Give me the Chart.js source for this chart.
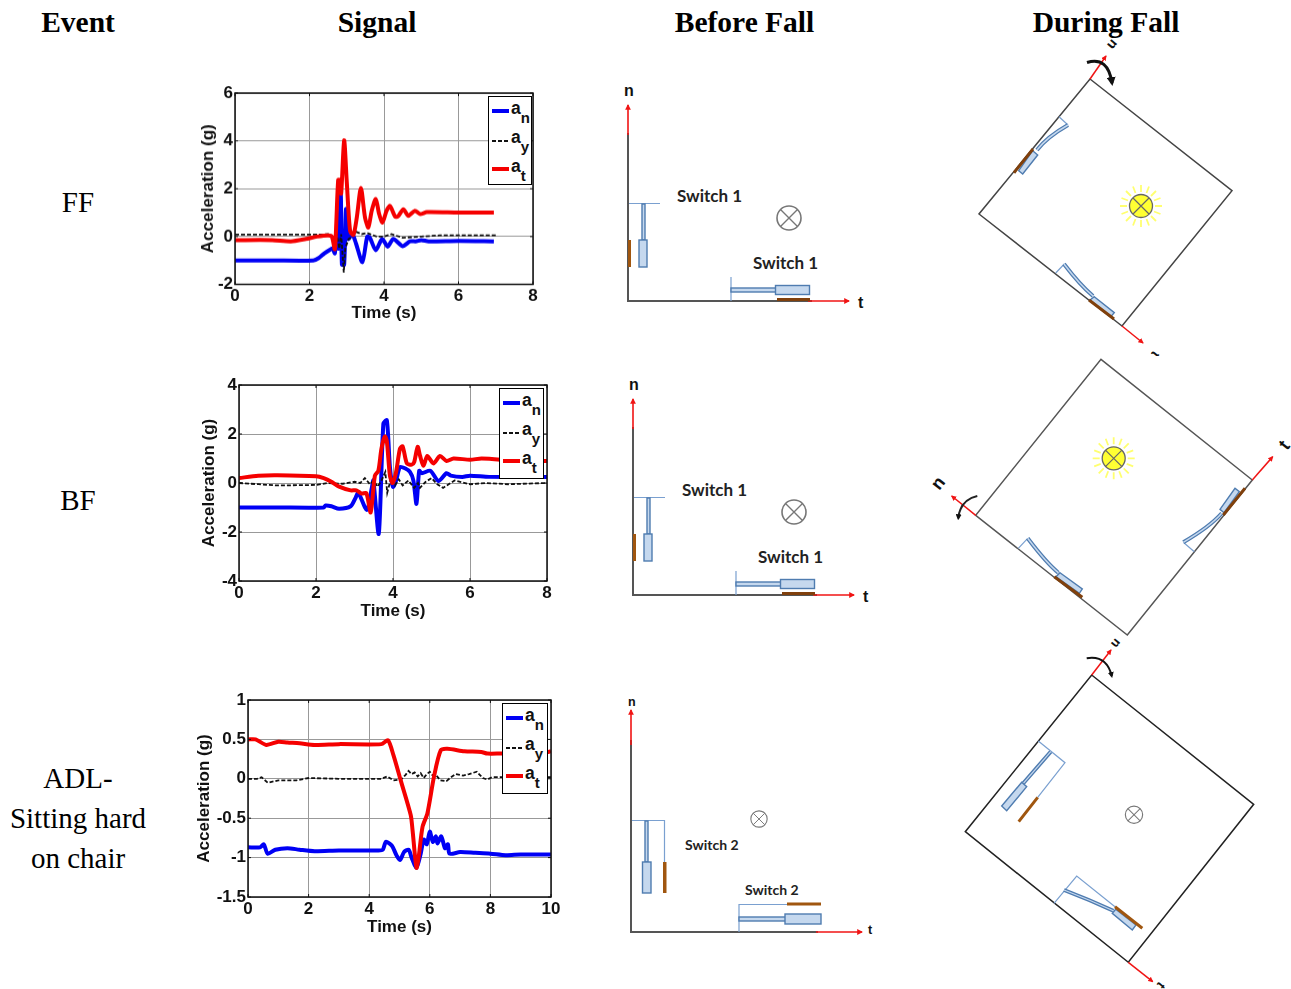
<!DOCTYPE html>
<html>
<head>
<meta charset="utf-8">
<title>Fall signals</title>
<script src="https://cdn.jsdelivr.net/npm/chart.js@4"></script>
<style>
  html, body { margin: 0; padding: 0; background: #fff; overflow: hidden; }
  #page { position: relative; width: 1291px; height: 989px; overflow: hidden; }
  #page svg { position: absolute; left: 0; top: 0; }
  .plot { position: absolute; }
  .head, .event { position: absolute; font-family: "Liberation Serif", serif; color: #000; white-space: nowrap; transform: translate(-50%, -50%); }
  .head { font-weight: bold; font-size: 29.5px; }
  .event { font-size: 29px; text-align: center; }
  .legend { position: absolute; background: #fff; border: 1.5px solid #000; box-sizing: border-box; font: bold 17.5px "Liberation Sans", sans-serif; color: #111; }
  .legend .row { position: absolute; left: 3px; height: 30px; }
  .legend .swatch { position: absolute; left: 0; top: 11px; width: 17px; border-top: 4px solid; }
  .legend .swatch.dash { border: none; height: 1.7px; top: 13px; background: repeating-linear-gradient(90deg, #111 0 4px, transparent 4px 6px); }
  .legend .name { position: absolute; left: 19px; top: 0; line-height: 20px; }
  .legend sub { font-size: 15px; line-height: 0; vertical-align: -9px; }
  .sw { font: bold 17px Lato, sans-serif; fill: #222; }
  .ax { font: bold 16px "Liberation Sans", sans-serif; fill: #111; }
</style>
</head>
<body>
<div id="page">
<svg width="1291" height="989" xmlns="http://www.w3.org/2000/svg">
  <defs>
    <marker id="tip" viewBox="0 0 6 6" refX="5" refY="3" markerWidth="3.6" markerHeight="3.6" orient="auto"><path d="M0,0 L6,3 L0,6 z" fill="#f01414"/></marker>
    <marker id="turn" viewBox="0 0 6 6" refX="4" refY="3" markerWidth="3" markerHeight="3" orient="auto"><path d="M0,0 L6,3 L0,6 z" fill="#111"/></marker>
    <g id="cross">
      <circle r="12" fill="#fff" stroke="#777" stroke-width="1.6"/>
      <path d="M-8.5,-8.5 L8.5,8.5 M8.5,-8.5 L-8.5,8.5" stroke="#777" stroke-width="1.4"/>
    </g>
    <g id="sun">
      <path d="M0,-21V-14M0,21V14M-21,0H-14M21,0H14M-15,-15L-10,-10M15,15L10,10M15,-15L10,-10M-15,15L-10,10M-8,-19.500L-5.500,-13M8,19.500L5.500,13M8,-19.500L5.500,-13M-8,19.500L-5.500,13M-19.500,-8L-13,-5.500M19.500,8L13,5.500M19.500,-8L13,-5.500M-19.500,8L-13,5.500" stroke="#ffff70" stroke-width="1.8"/>
      <circle r="11.500" fill="#ffff33" stroke="#666" stroke-width="1.300"/>
      <path d="M-8,-8L8,8M8,-8L-8,8" stroke="#666" stroke-width="1.200"/>
    </g>
    <g id="before">
      <path d="M628,133V301H812" fill="none" stroke="#555" stroke-width="2"/>
      <path d="M628,135V105" stroke="#f01414" stroke-width="1.600" marker-end="url(#tip)"/>
      <path d="M808,301H849" stroke="#f01414" stroke-width="1.600" marker-end="url(#tip)"/>
      <path d="M629,203.500H660M731,277V301" stroke="#7aa0d0" stroke-width="1.200"/>
      <rect x="642" y="204" width="3" height="36" fill="#c5d8ee" stroke="#4f7cb0" stroke-width="1.400"/>
      <rect x="639" y="240" width="8" height="27" fill="#c5d8ee" stroke="#4f7cb0" stroke-width="1.400"/>
      <rect x="628" y="240" width="3" height="27" fill="#a0560f"/>
      <rect x="731" y="288" width="45" height="4" fill="#c5d8ee" stroke="#4f7cb0" stroke-width="1.400"/>
      <rect x="775.500" y="285.500" width="34" height="9" fill="#c5d8ee" stroke="#4f7cb0" stroke-width="1.400"/>
      <rect x="777" y="298" width="33" height="3" fill="#80400c"/>
      <use href="#cross" x="789" y="218"/>
      <text class="sw" x="677" y="202">Switch 1</text>
      <text class="sw" x="753" y="269">Switch 1</text>
      <text class="ax" x="624" y="96">n</text>
      <text class="ax" x="858" y="308">t</text>
    </g>
  </defs>

  <use href="#before"/>
  <use href="#before" x="5" y="294"/>

  <!-- before fall, third row -->
  <path d="M631,740V932H818" fill="none" stroke="#555" stroke-width="2"/>
  <path d="M631,745V710" stroke="#f01414" stroke-width="1.600" marker-end="url(#tip)"/>
  <path d="M816,932H862" stroke="#f01414" stroke-width="1.600" marker-end="url(#tip)"/>
  <path d="M632,820.500H664.500V862M739,932V904.500H787" fill="none" stroke="#7aa0d0" stroke-width="1.200"/>
  <rect x="645" y="821" width="3" height="41" fill="#c5d8ee" stroke="#4f7cb0" stroke-width="1.400"/>
  <rect x="642.500" y="862" width="8.500" height="31" fill="#c5d8ee" stroke="#4f7cb0" stroke-width="1.400"/>
  <rect x="663" y="862" width="3.500" height="31" fill="#a0560f"/>
  <rect x="739" y="917" width="47" height="4" fill="#c5d8ee" stroke="#4f7cb0" stroke-width="1.400"/>
  <rect x="785" y="914" width="36" height="10" fill="#c5d8ee" stroke="#4f7cb0" stroke-width="1.400"/>
  <rect x="787" y="902.500" width="34" height="3" fill="#a0560f"/>
  <use href="#cross" transform="translate(759,819) scale(.68)"/>
  <text class="sw" style="font-size:14px" x="685" y="850">Switch 2</text>
  <text class="sw" style="font-size:14px" x="745" y="895">Switch 2</text>
  <text class="ax" style="font-size:12.500px" x="628" y="706">n</text>
  <text class="ax" style="font-size:12.500px" x="868" y="934">t</text>

  <!-- during fall, first row -->
  <path d="M1090,79L1232,190.700L1122,326L979,214Z" fill="none" stroke="#444" stroke-width="1.500"/>
  <path d="M1090,79L1106,56" stroke="#f01414" stroke-width="1.500" marker-end="url(#tip)"/>
  <path d="M1122,326L1143,343" stroke="#f01414" stroke-width="1.500" marker-end="url(#tip)"/>
  <path d="M1087,62.500Q1108,56 1112,83" fill="none" stroke="#111" stroke-width="3" marker-end="url(#turn)"/>
  <path d="M1059,116.700L1068,125M1055.700,273L1064.300,264" stroke="#7aa0d0" stroke-width="1.200"/>
  <path d="M1037,150Q1047,137 1068,125M1093,296Q1080,285 1064,264" fill="none" stroke="#4f7cb0" stroke-width="4"/>
  <path d="M1037,150Q1047,137 1068,125M1093,296Q1080,285 1064,264" fill="none" stroke="#c5d8ee" stroke-width="1.500"/>
  <path d="M1018.700,170.700L1022.700,174L1037.700,155L1032.700,150.700ZM1094.300,296.700L1114.300,312.700L1110.700,316.700L1090,300Z" fill="#c5d8ee" stroke="#4f7cb0" stroke-width="1.400"/>
  <path d="M1014,172.700L1033,149M1089,300L1114,319" stroke="#80400c" stroke-width="3"/>
  <use href="#sun" x="1141" y="206"/>
  <text class="ax" transform="translate(1113,45) rotate(130)" text-anchor="middle" dy="5" style="font-size:14px">n</text>
  <text class="ax" transform="translate(1156,355) rotate(130)" text-anchor="middle" dy="5" style="font-size:14px">t</text>

  <!-- during fall, second row -->
  <rect x="1130" y="356" width="50" height="5" fill="#fff"/>
  <path d="M1101,359.300L1252.300,480L1127.300,635L975.700,515.300Z" fill="none" stroke="#555" stroke-width="1.500"/>
  <path d="M1252.300,480L1272.700,456.700" stroke="#f01414" stroke-width="1.500" marker-end="url(#tip)"/>
  <path d="M975.700,515.300L951.700,496" stroke="#f01414" stroke-width="1.500" marker-end="url(#tip)"/>
  <path d="M977.300,496Q960,500 958.300,518.300" fill="none" stroke="#222" stroke-width="2" marker-end="url(#turn)"/>
  <path d="M1183.300,542.300L1194.300,551.700M1018.300,548.300L1027.700,538.300" stroke="#7aa0d0" stroke-width="1.200"/>
  <path d="M1221.700,513.300Q1210,526.700 1183.300,542.300M1058.300,572.700Q1046.700,563.300 1027.700,538.300" fill="none" stroke="#4f7cb0" stroke-width="4"/>
  <path d="M1221.700,513.300Q1210,526.700 1183.300,542.300M1058.300,572.700Q1046.700,563.300 1027.700,538.300" fill="none" stroke="#c5d8ee" stroke-width="1.500"/>
  <path d="M1220,509.300L1235,488.300L1239.300,491.700L1224,512.700ZM1060,572.700L1082.300,589L1079.300,593.300L1056,576.700Z" fill="#c5d8ee" stroke="#4f7cb0" stroke-width="1.400"/>
  <path d="M1223.300,515L1245,488.300M1054.300,576.700L1082.300,597.300" stroke="#80400c" stroke-width="3"/>
  <use href="#sun" x="1113.700" y="458.300"/>
  <text class="ax" transform="translate(938,483) rotate(-52)" text-anchor="middle" dy="6" style="font-size:18px">n</text>
  <text class="ax" transform="translate(1284,445) rotate(-52)" text-anchor="middle" dy="6" style="font-size:18px">t</text>

  <!-- during fall, third row -->
  <path d="M1091.700,675L1253.700,804.300L1128.300,962.300L965.300,831.700Z" fill="none" stroke="#222" stroke-width="1.500"/>
  <path d="M1091.700,675L1111,650" stroke="#f01414" stroke-width="1.500" marker-end="url(#tip)"/>
  <path d="M1128.300,962.300L1152.700,981.700" stroke="#f01414" stroke-width="1.500" marker-end="url(#tip)"/>
  <path d="M1086.700,658.300Q1106.700,655 1111.700,676" fill="none" stroke="#111" stroke-width="2" marker-end="url(#turn)"/>
  <path d="M1038.300,741L1065,762.700L1037.700,797.300M1054,903.300L1076.700,876L1115,906.700" fill="none" stroke="#7aa0d0" stroke-width="1.200"/>
  <path d="M1050.700,751.700L1023.300,783.300M1064,890Q1090,900 1113.300,910.700" fill="none" stroke="#4f7cb0" stroke-width="4"/>
  <path d="M1050.700,751.700L1023.300,783.300M1064,890Q1090,900 1113.300,910.700" fill="none" stroke="#c5d8ee" stroke-width="1.200"/>
  <path d="M1021.700,782.300L1026.700,786.700L1006.700,810.700L1001.700,806ZM1115.700,909.300L1136,925L1132.300,930L1112.300,913.300Z" fill="#c5d8ee" stroke="#4f7cb0" stroke-width="1.400"/>
  <path d="M1037.700,797.300L1018.700,821.700M1115,906.700L1142.300,928.300" stroke="#a0560f" stroke-width="3"/>
  <use href="#cross" transform="translate(1134,814.700) scale(.72)"/>
  <text class="ax" transform="translate(1116.700,644) rotate(130)" text-anchor="middle" dy="5" style="font-size:13px">n</text>
  <text class="ax" transform="translate(1161.700,986) rotate(130)" text-anchor="middle" dy="5" style="font-size:13px">t</text>
</svg>

<div class="head" style="left:78px;top:22px">Event</div>
<div class="head" style="left:377px;top:22px">Signal</div>
<div class="head" style="left:744.500px;top:22px">Before Fall</div>
<div class="head" style="left:1106px;top:22px">During Fall</div>
<div class="event" style="left:78px;top:202px">FF</div>
<div class="event" style="left:78px;top:499.500px">BF</div>
<div class="event" style="left:78px;top:817.500px;line-height:40px">ADL-<br>Sitting hard<br>on chair</div>

<div class="plot"><canvas id="ffChart"></canvas></div>
<div class="plot"><canvas id="bfChart"></canvas></div>
<div class="plot"><canvas id="adlChart"></canvas></div>
</div>

<script>
// FF signal
const ffTimeN = [0, 1, 2.1, 2.25, 2.4, 2.55, 2.62, 2.68, 2.72, 2.78, 2.84, 2.87, 2.93, 2.98, 3.04, 3.15, 3.25, 3.42, 3.55, 3.62, 3.78, 3.95, 4.1, 4.25, 4.5, 4.7, 4.85, 5, 5.2, 6, 6.95];
const ffAn = [-1, -1, -1, -0.9, -0.7, -0.55, -0.5, -0.7, 0.2, -0.5, 1.78, -1.17, -1.17, 1.15, -0.1, 0.1, -0.3, -1.07, 0, -0.05, -0.57, -0.1, -0.42, -0.1, -0.4, -0.2, -0.2, -0.15, -0.2, -0.18, -0.2];
const ffTimeY = [0, 1, 2.3, 2.5, 2.65, 2.72, 2.8, 2.85, 2.92, 2.96, 3.05, 3.15, 3.25, 3.4, 3.55, 3.8, 4, 4.2, 4.5, 5, 5.5, 7];
const ffAy = [0.08, 0.08, 0.08, 0.1, -0.1, 0.2, -0.5, 0.1, -1.5, -0.5, -0.1, 0, 0.2, 0.1, 0.15, 0, 0, 0.1, -0.05, 0, 0.05, 0.05];
const ffTimeT = [0, 1, 1.5, 1.9, 2.2, 2.5, 2.6, 2.68, 2.72, 2.77, 2.81, 2.85, 2.93, 3, 3.09, 3.18, 3.27, 3.38, 3.49, 3.58, 3.67, 3.78, 3.87, 3.96, 4.07, 4.16, 4.3, 4.38, 4.52, 4.65, 4.83, 4.97, 5.15, 6, 6.95];
const ffAt = [-0.15, -0.15, -0.2, -0.1, 0, 0.05, 0, -0.53, 0.6, 2.37, 2.37, 1.8, 4.02, 2.3, 0.24, 0.07, 0.8, 2.03, 0.8, 0.38, 1.08, 1.57, 0.94, 0.59, 1.08, 1.28, 0.83, 0.85, 1.14, 0.87, 1.08, 0.94, 1.02, 1, 1];

// BF signal
const bfTimeN = [0, 1, 2.2, 2.25, 2.4, 2.6, 2.9, 3.03, 3.1, 3.32, 3.45, 3.49, 3.63, 3.75, 3.84, 3.92, 4, 4.08, 4.18, 4.31, 4.44, 4.53, 4.61, 4.68, 4.75, 4.97, 5.18, 5.39, 5.5, 5.8, 6, 6.5, 8];
const bfAn = [-1, -1, -1, -0.92, -0.95, -1.05, -0.95, -0.6, -0.4, -1.1, -0.2, 0.1, -2.07, 2.42, 2.56, 0.65, -0.16, 0.1, 0.65, 0.6, 0.45, 0.1, -0.85, 0.5, 0.4, 0.5, 0.08, 0.4, 0.3, 0.25, 0.3, 0.25, 0.25];
const bfTimeY = [0, 0.5, 1, 2, 2.3, 2.7, 3, 3.15, 3.27, 3.4, 3.5, 3.6, 3.7, 3.8, 3.85, 3.95, 4.05, 4.15, 4.25, 4.4, 4.55, 4.65, 4.7, 4.85, 5, 5.15, 5.3, 5.5, 5.6, 6, 6.4, 7, 8];
const bfAy = [0, -0.05, -0.1, -0.08, 0, -0.03, 0.05, 0, 0.2, -0.05, 0.1, -0.15, 0.1, 0.45, -0.4, 0.2, -0.1, 0.15, -0.1, 0.1, -0.2, 0, -0.2, 0.05, 0.2, -0.05, -0.2, 0, 0.1, -0.05, 0, -0.05, 0];
const bfTimeT = [0, 0.5, 1, 2, 2.2, 2.4, 2.6, 2.9, 3.05, 3.18, 3.31, 3.42, 3.53, 3.62, 3.7, 3.79, 3.84, 3.92, 3.99, 4.08, 4.18, 4.25, 4.36, 4.49, 4.55, 4.64, 4.7, 4.79, 4.89, 5.05, 5.22, 5.39, 5.57, 6, 6.3, 6.8, 7, 8];
const bfAt = [0.2, 0.3, 0.32, 0.28, 0.2, 0.05, -0.15, -0.3, -0.3, -0.43, -0.42, -1.2, 0.3, 0.5, 1.4, 1.9, 1.7, 0.3, 0, 0.45, 1.4, 1.5, 0.8, 0.75, 0.85, 1.48, 1.13, 0.7, 1.1, 0.8, 1.1, 0.9, 1, 0.95, 1, 0.95, 0.9, 0.9];

// ADL signal
const adlTimeN = [0, 0.4, 0.52, 0.65, 0.9, 1.3, 1.7, 2.2, 3, 4.3, 4.45, 4.55, 4.75, 4.9, 5.02, 5.15, 5.3, 5.4, 5.56, 5.7, 5.8, 5.9, 6, 6.1, 6.2, 6.25, 6.38, 6.5, 6.6, 6.65, 7, 7.5, 8, 8.5, 9, 10];
const adlAn = [-0.87, -0.87, -0.83, -0.95, -0.9, -0.88, -0.9, -0.92, -0.91, -0.91, -0.9, -0.8, -0.85, -0.97, -1.03, -0.93, -0.9, -1, -1.13, -0.95, -0.77, -0.83, -0.67, -0.8, -0.73, -0.82, -0.73, -0.88, -0.83, -0.95, -0.93, -0.94, -0.95, -0.97, -0.96, -0.96];
const adlTimeY = [0, 0.3, 0.45, 0.65, 1, 1.6, 2, 3, 4.4, 4.6, 4.8, 5.05, 5.2, 5.3, 5.4, 5.5, 5.6, 5.7, 5.8, 5.9, 6, 6.1, 6.2, 6.35, 6.55, 6.7, 6.85, 7.1, 7.3, 7.55, 7.75, 7.9, 8.05, 8.5, 10];
const adlAy = [0, 0, 0.02, -0.05, -0.02, -0.02, 0.01, 0, 0, 0.03, -0.02, -0.01, 0.05, 0.1, 0.06, 0.08, 0.03, 0.07, 0.01, 0.06, 0.09, 0.04, 0.05, -0.02, -0.03, 0.02, 0.06, 0.04, 0.06, 0.09, 0.01, -0.01, 0.02, 0.02, 0.02];
const adlTimeT = [0, 0.25, 0.6, 1, 1.3, 1.7, 2.2, 3, 4.4, 4.62, 4.8, 5.04, 5.37, 5.43, 5.56, 5.63, 5.76, 5.92, 6.14, 6.36, 6.58, 7.14, 7.7, 7.9, 8.5, 9, 9.5, 10];
const adlAt = [0.5, 0.5, 0.43, 0.47, 0.46, 0.45, 0.43, 0.44, 0.44, 0.49, 0.3, -0.02, -0.46, -0.65, -1.13, -1, -0.61, -0.44, 0.03, 0.36, 0.38, 0.35, 0.34, 0.32, 0.32, 0.3, 0.3, 0.35];

const legendNames = ['n', 'y', 't'];
const lineColors = ['#0000f5', '#111111', '#f50000'];

function pts(times, values) {
    return times.map((t, i) => ({ x: t, y: values[i] }));
}

// MATLAB style box round the plot with short ticks pointing inwards
const framePlugin = {
    id: 'frame',
    afterDraw(chart) {
        const { ctx, chartArea: a, scales } = chart;
        ctx.save();
        ctx.strokeStyle = '#111';
        ctx.lineWidth = 1;
        ctx.beginPath();
        scales.x.ticks.forEach(t => {
            const px = scales.x.getPixelForValue(t.value);
            ctx.moveTo(px, a.top); ctx.lineTo(px, a.top + 3);
            ctx.moveTo(px, a.bottom); ctx.lineTo(px, a.bottom - 3);
        });
        scales.y.ticks.forEach(t => {
            const py = scales.y.getPixelForValue(t.value);
            ctx.moveTo(a.left, py); ctx.lineTo(a.left + 3, py);
            ctx.moveTo(a.right, py); ctx.lineTo(a.right - 3, py);
        });
        ctx.stroke();
        ctx.lineWidth = 1.5;
        ctx.strokeRect(a.left, a.top, a.right - a.left, a.bottom - a.top);
        ctx.restore();
    }
};

function makePlot(id, box, series, xAxis, yAxis) {
    const padTop = 12, padRight = 14, padBottom = box.bottomSpace, padLeft = box.leftSpace;
    const holder = document.getElementById(id).parentNode;
    holder.style.left = (box.left - padLeft) + 'px';
    holder.style.top = (box.top - padTop) + 'px';
    holder.style.width = (box.width + padLeft + padRight) + 'px';
    holder.style.height = (box.height + padTop + padBottom) + 'px';

    const fixPads = s => { s.paddingLeft = s.paddingRight = s.paddingTop = s.paddingBottom = 0; };
    const tickFont = { family: '"Liberation Sans"', size: 17, weight: 'bold' };
    const titleFont = { family: '"Liberation Sans"', size: 17, weight: 'bold' };

    new Chart(document.getElementById(id), {
        type: 'line',
        data: {
            datasets: series.map((s, i) => ({
                label: 'a' + legendNames[i],
                data: s,
                borderColor: lineColors[i],
                borderWidth: i === 1 ? 1.8 : 4,
                borderDash: i === 1 ? [4, 2] : [],
                pointRadius: 0,
                tension: i === 1 ? 0 : 0.25,
                order: [3, 2, 1][i] // red on top, blue at the bottom
            }))
        },
        options: {
            responsive: true,
            maintainAspectRatio: false,
            animation: false,
            layout: { padding: { top: padTop, right: padRight, left: 0, bottom: 0 } },
            plugins: { legend: { display: false }, tooltip: { enabled: false } },
            scales: {
                x: {
                    type: 'linear', min: xAxis.min, max: xAxis.max,
                    afterFit: s => { s.height = padBottom; fixPads(s); },
                    grid: { color: '#999', lineWidth: 1, tickLength: 0 },
                    border: { display: false },
                    ticks: { stepSize: xAxis.step, color: '#111', font: tickFont, padding: 2, maxRotation: 0, callback: v => String(v) },
                    title: { display: true, text: 'Time (s)', color: '#111', font: titleFont, padding: 0 }
                },
                y: {
                    type: 'linear', min: yAxis.min, max: yAxis.max,
                    afterFit: s => { s.width = padLeft; fixPads(s); },
                    grid: { color: '#999', lineWidth: 1, tickLength: 0 },
                    border: { display: false },
                    ticks: { stepSize: yAxis.step, color: '#111', font: tickFont, padding: 2, callback: v => String(v) },
                    title: { display: true, text: 'Acceleration (g)', color: '#111', font: titleFont, padding: 0 }
                }
            }
        },
        plugins: [framePlugin]
    });

    // legend box with real subscripts
    const lg = document.createElement('div');
    lg.className = 'legend';
    lg.style.left = box.legend.left + 'px';
    lg.style.top = box.legend.top + 'px';
    lg.style.width = box.legend.width + 'px';
    lg.style.height = box.legend.height + 'px';
    legendNames.forEach((name, i) => {
        const row = document.createElement('div');
        row.className = 'row';
        row.style.top = (i * 29 + 1) + 'px';
        row.innerHTML = `<span class="swatch${i === 1 ? ' dash' : ''}" style="border-top-color:${lineColors[i]}"></span>` +
            `<span class="name">a<sub>${name}</sub></span>`;
        lg.appendChild(row);
    });
    document.getElementById('page').appendChild(lg);
}

makePlot('ffChart',
    { left: 235, top: 93, width: 298, height: 190.500, leftSpace: 37, bottomSpace: 39, legend: { left: 488, top: 96, width: 44, height: 89 } },
    [pts(ffTimeN, ffAn), pts(ffTimeY, ffAy), pts(ffTimeT, ffAt)],
    { min: 0, max: 8, step: 2 }, { min: -2, max: 6, step: 2 });

makePlot('bfChart',
    { left: 239, top: 385, width: 308, height: 196, leftSpace: 40, bottomSpace: 41, legend: { left: 499, top: 388, width: 45, height: 91 } },
    [pts(bfTimeN, bfAn), pts(bfTimeY, bfAy), pts(bfTimeT, bfAt)],
    { min: 0, max: 8, step: 2 }, { min: -4, max: 4, step: 2 });

makePlot('adlChart',
    { left: 248, top: 700, width: 303, height: 197, leftSpace: 54, bottomSpace: 41, legend: { left: 502, top: 703, width: 46, height: 91 } },
    [pts(adlTimeN, adlAn), pts(adlTimeY, adlAy), pts(adlTimeT, adlAt)],
    { min: 0, max: 10, step: 2 }, { min: -1.5, max: 1, step: 0.5 });
</script>
</body>
</html>
